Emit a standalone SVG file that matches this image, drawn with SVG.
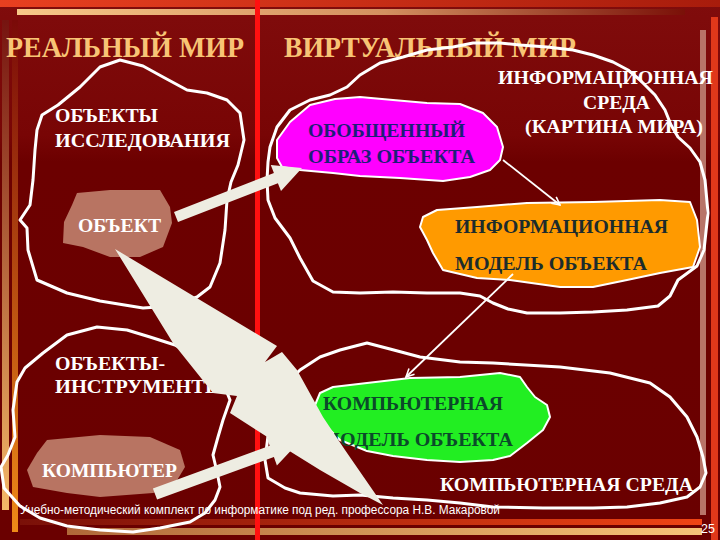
<svg xmlns="http://www.w3.org/2000/svg" width="720" height="540" viewBox="0 0 720 540">
<defs>
  <linearGradient id="bg" x1="0" y1="0" x2="0" y2="1">
    <stop offset="0" stop-color="#800c0c"/>
    <stop offset="0.25" stop-color="#780505"/>
    <stop offset="0.3" stop-color="#6c0000"/>
    <stop offset="1" stop-color="#6a0000"/>
  </linearGradient>
  <linearGradient id="topred" x1="0" y1="0" x2="1" y2="0">
    <stop offset="0" stop-color="#e84020"/>
    <stop offset="1" stop-color="#a81c0c"/>
  </linearGradient>
  <linearGradient id="topbar" x1="0" y1="0" x2="1" y2="0">
    <stop offset="0" stop-color="#f8c888"/>
    <stop offset="0.55" stop-color="#d49060"/>
    <stop offset="1" stop-color="#7a1008"/>
  </linearGradient>
  <linearGradient id="leftA" x1="0" y1="0" x2="0" y2="1">
    <stop offset="0" stop-color="#761410"/>
    <stop offset="1" stop-color="#f4b868"/>
  </linearGradient>
  <linearGradient id="leftB" x1="0" y1="0" x2="0" y2="1">
    <stop offset="0" stop-color="#7a0a08"/>
    <stop offset="1" stop-color="#ee8a18"/>
  </linearGradient>
  <linearGradient id="botA" x1="0" y1="0" x2="1" y2="0">
    <stop offset="0" stop-color="#7a1008"/>
    <stop offset="1" stop-color="#f04414"/>
  </linearGradient>
  <linearGradient id="botB" x1="0" y1="0" x2="1" y2="0">
    <stop offset="0" stop-color="#b06838"/>
    <stop offset="1" stop-color="#f8c478"/>
  </linearGradient>
  <marker id="ah" viewBox="0 0 10 10" refX="9" refY="5" markerWidth="10" markerHeight="10" orient="auto" markerUnits="userSpaceOnUse">
    <path d="M1,1 L9,5 L1,9" fill="none" stroke="#ffffff" stroke-width="1.6"/>
  </marker>
</defs>
<style>
  .title{font-family:"Liberation Serif","Times New Roman",serif;font-weight:bold;font-size:30px;fill:#f8c475}
  .lbl{font-family:"Liberation Serif","Times New Roman",serif;font-weight:bold;font-size:19px}
  .w{fill:#ffffff}
  .navy{fill:#1e1e78}
  .slate{fill:#1c2c2c}
  .dgreen{fill:#0b4a2a}
  .outline{fill:none;stroke:#ffffff;stroke-width:3;stroke-linejoin:round}
  .blob{stroke:#ffffff;stroke-width:2;stroke-linejoin:round}
  .arrow{fill:#eeede2}
  .conn{stroke:#ffffff;stroke-width:1.8;fill:none}
  .foot{font-family:"Liberation Sans",Arial,sans-serif;font-size:12.5px;fill:#ffffff}
</style>

<rect width="720" height="540" fill="url(#bg)"/>
<g id="decor">
  <rect x="0" y="0" width="720" height="7" fill="url(#topred)"/>
  <rect x="17" y="9" width="668" height="6" fill="url(#topbar)"/>
  <rect x="2" y="20" width="7" height="490" fill="url(#leftA)"/>
  <rect x="12" y="20" width="6" height="512" fill="url(#leftB)"/>
  <rect x="700" y="30" width="6" height="485" fill="#b87468"/>
  <rect x="711" y="17" width="7" height="523" fill="#e0381a"/>
  <rect x="20" y="519" width="682" height="6" fill="url(#botA)"/>
  <rect x="67" y="528" width="635" height="7" fill="url(#botB)"/>
  <rect x="255" y="0" width="5" height="540" fill="#ff1010"/>
</g>

<g id="real-world">
  <text class="title" x="6" y="57" textLength="238" lengthAdjust="spacingAndGlyphs">РЕАЛЬНЫЙ МИР</text>
</g>
<g id="virtual-world">
  <text class="title" x="284" y="57" textLength="292" lengthAdjust="spacingAndGlyphs">ВИРТУАЛЬНЫЙ МИР</text>
</g>

<g id="footer">
  <text class="foot" x="20" y="514" textLength="480" lengthAdjust="spacingAndGlyphs">Учебно-методический комплект по информатике под ред. профессора Н.В. Макаровой</text>
  <text class="foot" x="701" y="533" font-size="12">25</text>
</g>

<g id="research-objects">
  <polygon class="outline" points="120,60 143,66 163,77 187,90 207,93 227,100 240,113 244,140 238,165 231,182 227,200 225,230 220,263 210,287 197,297 173,306 143,308 100,301 67,293 37,280 28,250 27,228 20,220 30,205 33,180 35,150 37,130 42,115 58,105 80,87 100,67"/>
  <text class="lbl w" x="55" y="122" textLength="103" lengthAdjust="spacingAndGlyphs">ОБЪЕКТЫ</text>
  <text class="lbl w" x="55" y="147" textLength="175" lengthAdjust="spacingAndGlyphs">ИССЛЕДОВАНИЯ</text>
</g>

<g id="tool-objects">
  <polygon class="outline" points="43,353 67,335 97,327 127,330 150,337 175,345 200,360 222,380 230,400 223,420 218,437 213,455 217,472 220,487 215,500 205,513 190,522 160,528 133,532 100,530 67,526 40,518 20,506 4,488 1,467 8,455 15,437 13,410 17,382 25,368"/>
  <text class="lbl w" x="55" y="370" textLength="110" lengthAdjust="spacingAndGlyphs">ОБЪЕКТЫ-</text>
  <text class="lbl w" x="55" y="393" textLength="170" lengthAdjust="spacingAndGlyphs">ИНСТРУМЕНТЫ</text>
</g>

<g id="info-environment">
  <polygon class="outline" points="270,147 277,127 290,110 310,100 330,95 347,87 360,75 380,63 403,57 427,50 453,47 473,43 500,43 520,45 547,47 573,50 593,55 613,62 628,70 640,80 655,95 665,110 671,125 678,137 690,148 700,162 705,180 708,213 704,250 697,266 678,280 670,296 658,306 627,310 593,312 560,313 527,313 508,309 493,303 480,296 460,293 427,293 393,292 360,293 333,292 313,281 300,258 290,238 275,218 268,200 267,180 268,162"/>
  <text class="lbl w" x="498" y="84" textLength="215" lengthAdjust="spacingAndGlyphs">ИНФОРМАЦИОННАЯ</text>
  <text class="lbl w" x="583" y="109" textLength="67" lengthAdjust="spacingAndGlyphs">СРЕДА</text>
  <text class="lbl w" x="525" y="133" textLength="178" lengthAdjust="spacingAndGlyphs">(КАРТИНА МИРА)</text>
</g>

<g id="computer-environment">
  <polygon class="outline" points="300,370 320,357 340,350 367,343 390,349 420,357 460,362 493,363 560,367 610,373 650,383 670,397 687,417 697,437 703,457 706,473 700,487 687,497 660,503 627,507 593,508 543,508 493,507 460,503 427,500 393,498 360,495 333,496 300,493 285,488 268,478 265,460 270,420 285,385"/>
  <text class="lbl w" x="440" y="491" textLength="253" lengthAdjust="spacingAndGlyphs">КОМПЬЮТЕРНАЯ СРЕДА</text>
</g>

<g id="object">
  <polygon fill="#b87462" points="77,193 110,190 160,190 170,207 172,223 163,247 140,257 110,257 83,247 63,243 64,222 72,205"/>
  <text class="lbl w" x="78" y="232" font-size="20" textLength="83" lengthAdjust="spacingAndGlyphs">ОБЪЕКТ</text>
</g>

<g id="computer">
  <polygon fill="#b87462" points="47,440 100,435 150,437 180,450 185,467 173,487 153,493 100,497 67,493 33,487 27,470 37,453"/>
  <text class="lbl w" x="42" y="477" font-size="20" textLength="135" lengthAdjust="spacingAndGlyphs">КОМПЬЮТЕР</text>
</g>

<g id="generalized-image">
  <polygon class="blob" fill="#ff00ff" points="310,105 335,99 360,97 393,100 427,103 460,104 483,113 497,127 503,147 500,160 490,170 470,177 443,181 400,178 360,176 333,173 300,170 282,167 277,158 277,140 290,122"/>
  <text class="lbl navy" x="308" y="137" textLength="157" lengthAdjust="spacingAndGlyphs">ОБОБЩЕННЫЙ</text>
  <text class="lbl navy" x="308" y="163" textLength="167" lengthAdjust="spacingAndGlyphs">ОБРАЗ ОБЪЕКТА</text>
</g>

<g id="info-model">
  <polygon class="blob" fill="#ff9a00" points="423,217 437,210 477,207 527,203 593,202 660,200 690,202 697,220 700,247 693,267 660,273 627,280 593,287 560,287 510,280 477,278 443,270 433,253 427,240 420,227"/>
  <text class="lbl slate" x="455" y="233" textLength="213" lengthAdjust="spacingAndGlyphs">ИНФОРМАЦИОННАЯ</text>
  <text class="lbl slate" x="455" y="270" textLength="192" lengthAdjust="spacingAndGlyphs">МОДЕЛЬ ОБЪЕКТА</text>
</g>

<g id="computer-model">
  <polygon class="blob" fill="#22ee22" points="320,393 333,387 367,383 410,378 460,377 500,373 520,377 527,387 535,397 547,405 550,417 543,430 527,443 510,456 493,460 460,462 427,460 393,456 367,451 340,440 327,427 313,410"/>
  <text class="lbl dgreen" x="323" y="410" textLength="180" lengthAdjust="spacingAndGlyphs">КОМПЬЮТЕРНАЯ</text>
  <text class="lbl dgreen" x="321" y="446" textLength="192" lengthAdjust="spacingAndGlyphs">МОДЕЛЬ ОБЪЕКТА</text>
</g>

<g id="connectors">
  <path class="conn" d="M503,160 L560,205" marker-end="url(#ah)"/>
  <path class="conn" d="M513,274 L406,377" marker-end="url(#ah)"/>
  <polygon class="arrow" points="174,211.9 273.9,173 270.8,165.1 302,168 281,191 277.9,183.2 178,222.1"/>
  <polygon class="arrow" points="152.9,488.4 269.7,445.7 266.7,437.2 300,441 276.9,465.4 273.9,456.9 157.1,499.6"/>
  <polygon class="arrow" points="115,249 277,346 265,362 282,352 297,370 323,417 345,450 383,505 360,493 320,470 283,447 230,413 237,396 213,393 173,343"/>
</g>
</svg>
